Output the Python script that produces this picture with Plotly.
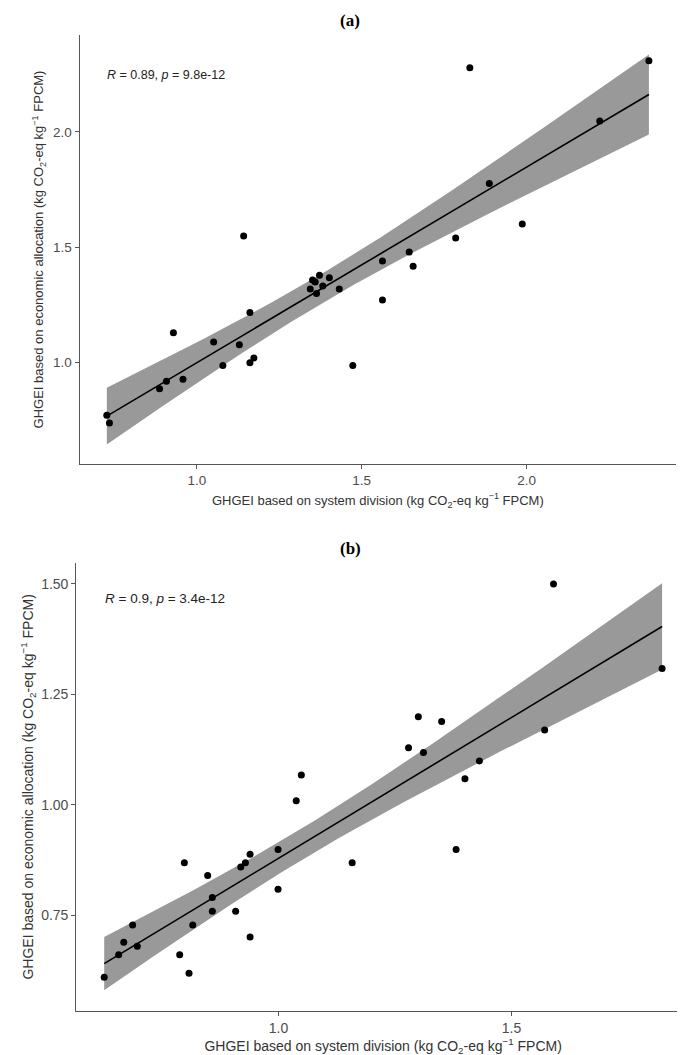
import numpy as np
import plotly.graph_objects as go

# ---------------- data ----------------
# Panel (a)
a_x = [0.727, 0.735, 0.887, 0.908, 0.958, 0.929, 1.051, 1.079, 1.129, 1.142,
       1.161, 1.161, 1.173, 1.344, 1.351, 1.359, 1.363, 1.372, 1.382, 1.402,
       1.432, 1.473, 1.563, 1.563, 1.644, 1.656, 1.785, 1.828, 1.887, 1.987,
       2.222, 2.371]
a_y = [0.772, 0.738, 0.887, 0.919, 0.928, 1.129, 1.089, 0.987, 1.077, 1.549,
       1.217, 0.999, 1.020, 1.319, 1.358, 1.349, 1.300, 1.379, 1.332, 1.368,
       1.319, 0.987, 1.440, 1.271, 1.479, 1.418, 1.540, 2.278, 1.777, 1.601,
       2.048, 2.309]
# Panel (b)
b_x = [0.626, 0.657, 0.668, 0.687, 0.697, 0.788, 0.798, 0.808, 0.816, 0.848,
       0.858, 0.858, 0.908, 0.919, 0.929, 0.939, 0.939, 0.999, 0.999, 1.038,
       1.049, 1.158, 1.381, 1.590, 1.823, 1.300, 1.350, 1.279, 1.311, 1.571,
       1.431, 1.400]
b_y = [0.610, 0.661, 0.689, 0.728, 0.680, 0.661, 0.869, 0.619, 0.728, 0.840,
       0.790, 0.759, 0.759, 0.859, 0.869, 0.888, 0.701, 0.899, 0.809, 1.009,
       1.067, 0.869, 0.899, 1.499, 1.308, 1.199, 1.188, 1.129, 1.118, 1.169,
       1.099, 1.059]

a_label = "<i>R</i> = 0.89, <i>p</i> = 9.8e-12"
b_label = "<i>R</i> = 0.9, <i>p</i> = 3.4e-12"
a_title = "<b>(a)</b>"
b_title = "<b>(b)</b>"
x_title = "GHGEI based on system division (kg CO<sub>2</sub>-eq kg<sup>\u22121</sup> FPCM)"
y_title = "GHGEI based on economic allocation (kg CO<sub>2</sub>-eq kg<sup>\u22121</sup> FPCM)"
a_xticks = [1.0, 1.5, 2.0]
a_yticks = [1.0, 1.5, 2.0]
b_xticks = [1.0, 1.5]
b_yticks = [0.75, 1.00, 1.25, 1.50]

T975 = 2.0423  # t quantile, df = 30


def fit(xs, ys):
    x = np.asarray(xs, float)
    y = np.asarray(ys, float)
    n = len(x)
    b1, b0 = np.polyfit(x, y, 1)
    res = y - (b0 + b1 * x)
    s = np.sqrt(np.sum(res ** 2) / (n - 2))
    sxx = np.sum((x - x.mean()) ** 2)
    gx = np.linspace(x.min(), x.max(), 80)
    gy = b0 + b1 * gx
    se = s * np.sqrt(1.0 / n + (gx - x.mean()) ** 2 / sxx)
    return gx, gy, gy - T975 * se, gy + T975 * se


def rng(vals):
    lo, hi = min(vals), max(vals)
    d = (hi - lo) * 0.05
    return [lo - d, hi + d]


W, H = 685, 1055
fig = go.Figure()

panels = [
    (a_x, a_y, "x", "y"),
    (b_x, b_y, "x2", "y2"),
]
ranges = []
for xs, ys, xa, ya in panels:
    gx, gy, lo, hi = fit(xs, ys)
    fig.add_trace(go.Scatter(
        x=np.concatenate([gx, gx[::-1]]), y=np.concatenate([hi, lo[::-1]]),
        fill="toself", fillcolor="#999999", line=dict(width=0),
        mode="lines", hoverinfo="skip", showlegend=False, xaxis=xa, yaxis=ya))
    fig.add_trace(go.Scatter(
        x=gx, y=gy, mode="lines", line=dict(color="black", width=1.6),
        showlegend=False, xaxis=xa, yaxis=ya))
    fig.add_trace(go.Scatter(
        x=xs, y=ys, mode="markers", marker=dict(color="black", size=7),
        showlegend=False, xaxis=xa, yaxis=ya))
    ranges.append((rng(list(xs)), rng(list(ys) + list(lo) + list(hi))))

SANS = "Liberation Sans, Arial, sans-serif"
SERIF = "Liberation Serif, Times New Roman, serif"
axis_common = dict(
    showline=True, linecolor="#555555", linewidth=1.2, mirror=False,
    showgrid=False, zeroline=False, ticks="outside", ticklen=4,
    tickcolor="#555555", tickwidth=1.1,
)

fig.update_layout(
    width=W, height=H, margin=dict(l=0, r=0, t=0, b=0),
    plot_bgcolor="white", paper_bgcolor="white",
    font=dict(family=SANS, size=13, color="#333333"),
    xaxis=dict(axis_common, domain=[71.7 / W, 668 / W], range=ranges[0][0],
               tickvals=a_xticks, tickformat=".1f", anchor="y",
               tickfont=dict(family=SANS, size=13.5, color="#4d4d4d"),
               title=dict(text=x_title, font=dict(family=SANS, size=13, color="#333333"), standoff=8)),
    yaxis=dict(axis_common, domain=[1 - 456 / H, 1 - 27 / H], range=ranges[0][1],
               tickvals=a_yticks, tickformat=".1f", anchor="x",
               tickfont=dict(family=SANS, size=13.5, color="#4d4d4d"),
               title=dict(text=y_title, font=dict(family=SANS, size=13, color="#333333"), standoff=6)),
    xaxis2=dict(axis_common, domain=[68.3 / W, 682 / W], range=ranges[1][0],
                tickvals=b_xticks, tickformat=".1f", anchor="y2",
                tickfont=dict(family=SANS, size=14, color="#4d4d4d"),
                title=dict(text=x_title, font=dict(family=SANS, size=14, color="#333333"), standoff=6)),
    yaxis2=dict(axis_common, domain=[1 - 1002.7 / H, 1 - 555 / H], range=ranges[1][1],
                tickvals=b_yticks, tickformat=".2f", anchor="x2",
                tickfont=dict(family=SANS, size=14, color="#4d4d4d"),
                title=dict(text=y_title, font=dict(family=SANS, size=14, color="#333333"), standoff=4)),
    annotations=[
        dict(text=a_title, x=342 / W, y=1 - 12 / H, xref="paper", yref="paper",
             showarrow=False, xanchor="center", yanchor="middle",
             font=dict(family=SERIF, size=17, color="black")),
        dict(text=b_title, x=342 / W, y=1 - 540 / H, xref="paper", yref="paper",
             showarrow=False, xanchor="center", yanchor="middle",
             font=dict(family=SERIF, size=17, color="black")),
        dict(text=a_label, x=97 / W, y=1 - 67 / H, xref="paper", yref="paper",
             showarrow=False, xanchor="left", yanchor="middle",
             font=dict(family=SANS, size=12.5, color="#222222")),
        dict(text=b_label, x=95 / W, y=1 - 590 / H, xref="paper", yref="paper",
             showarrow=False, xanchor="left", yanchor="middle",
             font=dict(family=SANS, size=13.5, color="#222222")),
    ],
)

fig.write_html("out.html")
